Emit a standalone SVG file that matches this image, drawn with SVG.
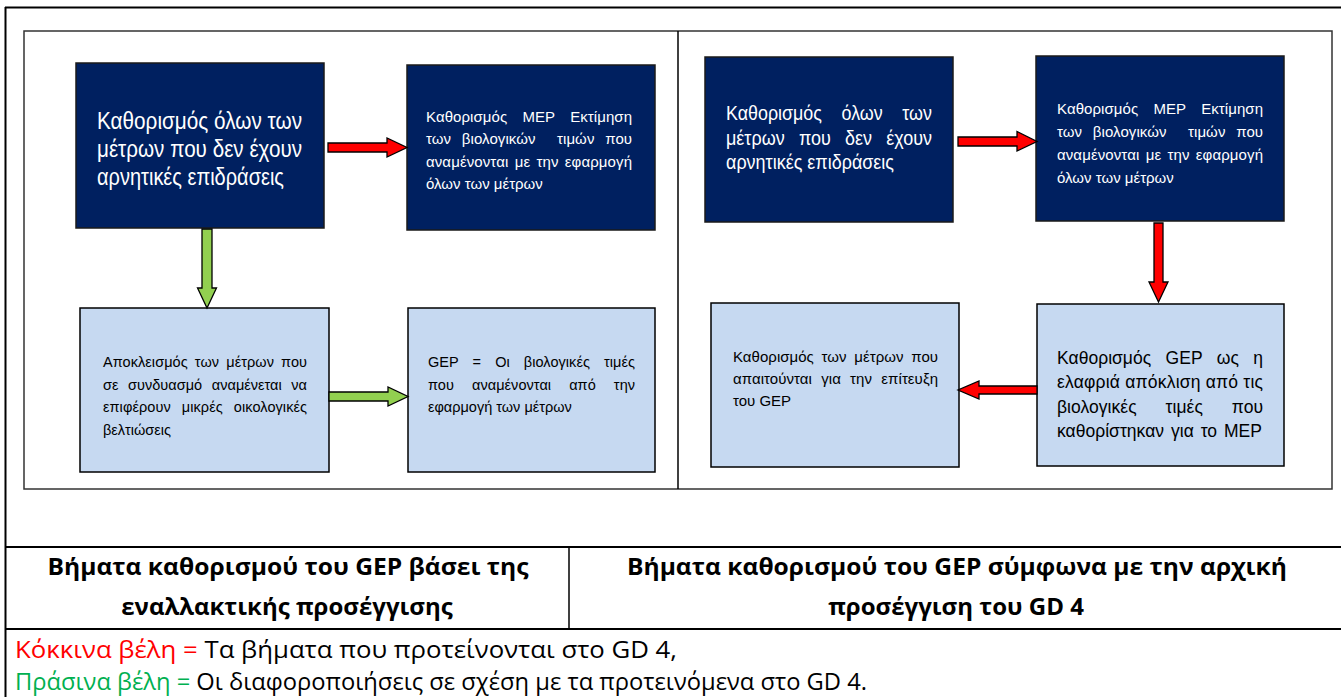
<svg xmlns="http://www.w3.org/2000/svg" width="1341" height="697" viewBox="0 0 1341 697">
<style>
.frame{fill:none;stroke:#000;stroke-width:2}
.inner{fill:none;stroke:#333;stroke-width:1.5}
.dark{fill:#002060;stroke:#1a1a1a;stroke-width:1.5}
.light{fill:#C6D9F1;stroke:#000;stroke-width:1.5}
.red{fill:#FF0000;stroke:#000;stroke-width:1.3;stroke-linejoin:miter}
.green{fill:#92D050;stroke:#000;stroke-width:1.3;stroke-linejoin:miter}
.wt{fill:#fff;font-family:"Liberation Sans",Arial,sans-serif;white-space:pre}
.bt{fill:#000;font-family:"Liberation Sans",Arial,sans-serif;white-space:pre}
.hd{font-family:"Open Sans","Noto Sans",sans-serif;font-weight:bold;font-size:24px;fill:#000;text-anchor:middle}
.lg{font-family:"Open Sans","Noto Sans",sans-serif;font-size:24px;fill:#000}
</style>
<g id="frame">
<line class="frame" x1="5" y1="7.5" x2="1341" y2="7.5"/>
<line class="frame" x1="5.5" y1="7" x2="5.5" y2="697"/>
<rect class="inner" x="24" y="31" width="1308" height="458"/>
<line class="frame" x1="678" y1="31" x2="678" y2="489" style="stroke-width:1.5"/>
<line class="frame" x1="5" y1="547" x2="1341" y2="547"/>
<line class="frame" x1="5" y1="629" x2="1341" y2="629"/>
<line class="frame" x1="569" y1="547" x2="569" y2="629" style="stroke-width:1.5"/>
</g>
<g id="nodeA">
<rect class="dark" x="76" y="63" width="248" height="165"/>
<text class="wt" font-size="23" x="97" y="129" textLength="205" lengthAdjust="spacingAndGlyphs">Καθορισμός όλων των</text>
<text class="wt" font-size="23" x="97" y="157" textLength="205" lengthAdjust="spacingAndGlyphs">μέτρων που δεν έχουν</text>
<text class="wt" font-size="23" x="97" y="185" textLength="187" lengthAdjust="spacingAndGlyphs">αρνητικές επιδράσεις</text>
</g>
<g id="nodeB">
<rect class="dark" x="407" y="65" width="248" height="165"/>
<text class="wt" font-size="15" x="426" y="121.5" word-spacing="11" textLength="206" lengthAdjust="spacing">Καθορισμός MEP Εκτίμηση</text>
<text class="wt" font-size="15" x="426" y="144" word-spacing="6.5" textLength="206" lengthAdjust="spacing">των βιολογικών  τιμών που</text>
<text class="wt" font-size="15" x="426" y="166.5" word-spacing="2" textLength="206" lengthAdjust="spacing">αναμένονται με την εφαρμογή</text>
<text class="wt" font-size="15" x="426" y="188.5">όλων των μέτρων</text>
</g>
<g id="nodeC">
<rect class="light" x="80" y="308" width="249" height="164"/>
<text class="bt" font-size="14.5" x="103" y="367" word-spacing="3" textLength="204" lengthAdjust="spacing">Αποκλεισμός των μέτρων που</text>
<text class="bt" font-size="14.5" x="103" y="390" word-spacing="5.5" textLength="204" lengthAdjust="spacing">σε συνδυασμό αναμένεται να</text>
<text class="bt" font-size="14.5" x="103" y="412" word-spacing="7" textLength="204" lengthAdjust="spacing">επιφέρουν μικρές οικολογικές</text>
<text class="bt" font-size="14.5" x="103" y="435">βελτιώσεις</text>
</g>
<g id="nodeD">
<rect class="light" x="408" y="308" width="247" height="164"/>
<text class="bt" font-size="14.5" x="428" y="367" word-spacing="10" textLength="207" lengthAdjust="spacing">GEP = Οι βιολογικές τιμές</text>
<text class="bt" font-size="14.5" x="428" y="390" word-spacing="14" textLength="207" lengthAdjust="spacing">που αναμένονται από την</text>
<text class="bt" font-size="14.5" x="428" y="412">εφαρμογή των μέτρων</text>
</g>
<g id="nodeE">
<rect class="dark" x="705" y="57" width="248" height="165"/>
<text class="wt" font-size="19.5" x="726" y="120" word-spacing="16" textLength="206" lengthAdjust="spacingAndGlyphs">Καθορισμός όλων των</text>
<text class="wt" font-size="19.5" x="726" y="144.5" word-spacing="10" textLength="206" lengthAdjust="spacingAndGlyphs">μέτρων που δεν έχουν</text>
<text class="wt" font-size="19.5" x="726" y="169" textLength="168" lengthAdjust="spacingAndGlyphs">αρνητικές επιδράσεις</text>
</g>
<g id="nodeF">
<rect class="dark" x="1036" y="56" width="248" height="165"/>
<text class="wt" font-size="15" x="1057" y="114" word-spacing="11" textLength="206" lengthAdjust="spacing">Καθορισμός MEP Εκτίμηση</text>
<text class="wt" font-size="15" x="1057" y="137" word-spacing="6.5" textLength="206" lengthAdjust="spacing">των βιολογικών  τιμών που</text>
<text class="wt" font-size="15" x="1057" y="160" word-spacing="2" textLength="206" lengthAdjust="spacing">αναμένονται με την εφαρμογή</text>
<text class="wt" font-size="15" x="1057" y="183">όλων των μέτρων</text>
</g>
<g id="nodeG">
<rect class="light" x="1037" y="304" width="247" height="162"/>
<text class="bt" font-size="17.5" x="1057" y="364" word-spacing="9.5" textLength="206" lengthAdjust="spacing">Καθορισμός GEP ως η</text>
<text class="bt" font-size="17.5" x="1057" y="388" textLength="206" lengthAdjust="spacing">ελαφριά απόκλιση από τις</text>
<text class="bt" font-size="17.5" x="1057" y="413" word-spacing="24" textLength="206" lengthAdjust="spacing">βιολογικές τιμές που</text>
<text class="bt" font-size="17.5" x="1057" y="437" word-spacing="2" textLength="205" lengthAdjust="spacing">καθορίστηκαν για το MEP</text>
</g>
<g id="nodeH">
<rect class="light" x="711" y="303" width="248" height="164"/>
<text class="bt" font-size="15" x="733" y="362" word-spacing="3.5" textLength="205" lengthAdjust="spacing">Καθορισμός των μέτρων που</text>
<text class="bt" font-size="15" x="733" y="384" word-spacing="5" textLength="205" lengthAdjust="spacing">απαιτούνται για την επίτευξη</text>
<text class="bt" font-size="15" x="733" y="406">του GEP</text>
</g>
<g id="connectors">
<polygon class="red" points="328,143 387,143 387,138 407,147.5 387,157 387,152 328,152"/>
<polygon class="red" points="958,137 1017,137 1017,131.5 1037,141.5 1017,151 1017,146 958,146"/>
<polygon class="red" points="1154,223 1163,223 1163,282 1168,282 1158.5,302 1149,282 1154,282"/>
<polygon class="red" points="1037,386 979,386 979,381 958,390 979,399 979,394 1037,394"/>
<polygon class="green" points="202,229 212,229 212,288 216.5,288 207,308 197.5,288 202,288"/>
<polygon class="green" points="329,392 388,392 388,387 408,396.5 388,406 388,401 329,401"/>
</g>
<g id="table">
<text class="hd" x="288" y="575" textLength="481" lengthAdjust="spacingAndGlyphs">Βήματα καθορισμού του GEP βάσει της</text>
<text class="hd" x="287" y="615">εναλλακτικής προσέγγισης</text>
<text class="hd" x="957" y="575" textLength="660" lengthAdjust="spacingAndGlyphs">Βήματα καθορισμού του GEP σύμφωνα με την αρχική</text>
<text class="hd" x="956" y="615">προσέγγιση του GD 4</text>
</g>
<g id="legend">
<text class="lg" x="15" y="658" textLength="662" lengthAdjust="spacingAndGlyphs"><tspan fill="#FF0000">Κόκκινα βέλη = </tspan>Τα βήματα που προτείνονται στο GD 4,</text>
<text class="lg" x="15" y="690" textLength="852" lengthAdjust="spacingAndGlyphs"><tspan fill="#00B050">Πράσινα βέλη = </tspan>Οι διαφοροποιήσεις σε σχέση με τα προτεινόμενα στο GD 4.</text>
</g>
</svg>
